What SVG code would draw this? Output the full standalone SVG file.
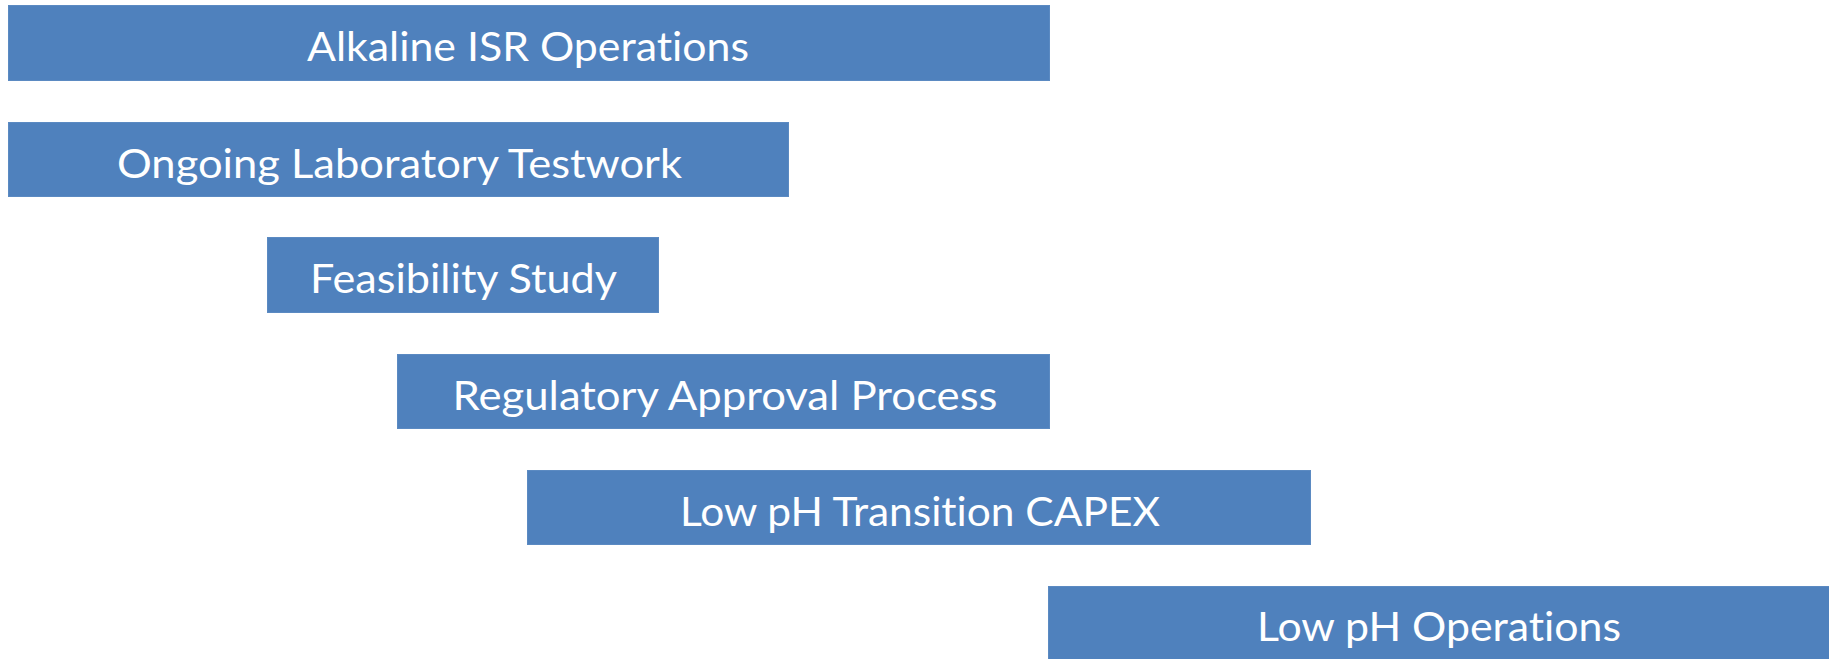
<svg xmlns="http://www.w3.org/2000/svg" width="1829" height="659" viewBox="0 0 1829 659">
<style>
.bar{fill:#4F81BD;stroke:#5B8AC2;stroke-width:1}
.lbl{font-family:Lato,"Open Sans","Liberation Sans",sans-serif;font-size:40px;fill:#FFFFFF;text-anchor:middle;font-variant-ligatures:none;font-feature-settings:"liga" 0}
</style>
<rect width="1829" height="659" fill="#FFFFFF"/>
<g id="n1"><rect class="bar" x="8.5" y="5.5" width="1041" height="75"/><text class="lbl" x="528" y="61" textLength="442" lengthAdjust="spacingAndGlyphs">Alkaline ISR Operations</text></g>
<g id="n2"><rect class="bar" x="8.5" y="122.5" width="780" height="74"/><text class="lbl" x="399.5" y="178" textLength="565" lengthAdjust="spacingAndGlyphs">Ongoing Laboratory Testwork</text></g>
<g id="n3"><rect class="bar" x="267.5" y="237.5" width="391" height="75"/><text class="lbl" x="463.5" y="293" textLength="307" lengthAdjust="spacingAndGlyphs">Feasibility Study</text></g>
<g id="n4"><rect class="bar" x="397.5" y="354.5" width="652" height="74"/><text class="lbl" x="725" y="410" textLength="545" lengthAdjust="spacingAndGlyphs">Regulatory Approval Process</text></g>
<g id="n5"><rect class="bar" x="527.5" y="470.5" width="783" height="74"/><text class="lbl" x="920" y="526" textLength="480" lengthAdjust="spacingAndGlyphs">Low pH Transition CAPEX</text></g>
<g id="n6"><rect class="bar" x="1048.5" y="586.5" width="781" height="73"/><text class="lbl" x="1439" y="641" textLength="364" lengthAdjust="spacingAndGlyphs">Low pH Operations</text></g>
<g id="connectors"></g>
</svg>
